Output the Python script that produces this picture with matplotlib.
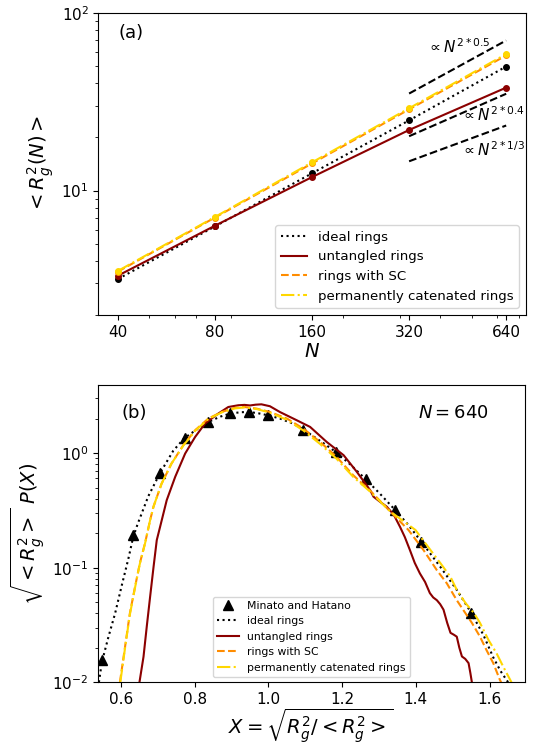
import numpy as np
import matplotlib
matplotlib.use("Agg")
import matplotlib.pyplot as plt
from matplotlib.ticker import NullFormatter, FixedLocator, FixedFormatter

# ---------------- panel (a) data ----------------
N_vals = [40, 80, 160, 320, 640]
N_labels = ["40", "80", "160", "320", "640"]
rg_ideal = [3.18, 6.28, 12.5, 24.8, 49.8]
rg_untangled = [3.32, 6.34, 11.9, 21.9, 37.9]
rg_sc = [3.50, 7.05, 14.2, 28.6, 57.5]
rg_cat = [3.53, 7.10, 14.4, 29.0, 58.5]

ref_N = [320, 640]
ref_05 = [35.1, 69.8]
ref_04 = [20.2, 35.0]
ref_13 = [14.6, 23.2]

# ---------------- panel (b) data ----------------
mh_x = [0.548, 0.633, 0.707, 0.773, 0.837, 0.896, 0.948, 1.000, 1.095, 1.183, 1.264, 1.344, 1.414, 1.549]
mh_y = [0.0157, 0.192, 0.675, 1.35, 1.88, 2.22, 2.28, 2.15, 1.59, 1.03, 0.59, 0.32, 0.167, 0.040]

ideal_x = [0.540, 0.548, 0.566, 0.584, 0.602, 0.620, 0.633, 0.645, 0.674, 0.706, 0.742, 0.772, 0.812, 0.837,
           0.870, 0.896, 0.925, 0.948, 0.973, 1.000, 1.031, 1.068, 1.095, 1.149, 1.183, 1.221, 1.264, 1.303,
           1.344, 1.380, 1.414, 1.466, 1.511, 1.549, 1.583, 1.610, 1.630, 1.655]
ideal_y = [0.0100, 0.0150, 0.025, 0.040, 0.070, 0.120, 0.185, 0.24, 0.42, 0.67, 1.05, 1.35, 1.66, 1.87,
           2.08, 2.21, 2.27, 2.28, 2.22, 2.13, 2.00, 1.80, 1.60, 1.22, 1.02, 0.80, 0.59, 0.44,
           0.318, 0.235, 0.170, 0.102, 0.064, 0.041, 0.026, 0.0165, 0.0125, 0.0095]

sc_x = [0.597, 0.611, 0.624, 0.638, 0.651, 0.665, 0.679, 0.688, 0.710, 0.737, 0.769, 0.801, 0.837, 0.873,
        0.909, 0.935, 0.968, 1.004, 1.050, 1.095, 1.140, 1.185, 1.230, 1.276, 1.330, 1.380, 1.421, 1.457,
        1.484, 1.511, 1.552, 1.574, 1.592, 1.610, 1.628, 1.640]
sc_y = [0.0100, 0.0205, 0.040, 0.068, 0.109, 0.163, 0.26, 0.34, 0.54, 0.81, 1.17, 1.58, 2.00, 2.28,
        2.48, 2.52, 2.44, 2.28, 2.00, 1.63, 1.25, 0.925, 0.64, 0.47, 0.31, 0.213, 0.142, 0.095,
        0.073, 0.052, 0.033, 0.025, 0.019, 0.0147, 0.0105, 0.0088]

cat_x = [0.598, 0.611, 0.624, 0.638, 0.651, 0.665, 0.679, 0.688, 0.710, 0.737, 0.769, 0.801, 0.837, 0.873,
         0.909, 0.935, 0.968, 1.004, 1.050, 1.095, 1.140, 1.185, 1.230, 1.276, 1.330, 1.399, 1.440, 1.467,
         1.494, 1.511, 1.535, 1.558, 1.574, 1.597, 1.619, 1.637, 1.656, 1.665]
cat_y = [0.0100, 0.0200, 0.039, 0.067, 0.108, 0.162, 0.26, 0.34, 0.54, 0.81, 1.16, 1.56, 1.98, 2.26,
         2.45, 2.50, 2.42, 2.25, 1.95, 1.57, 1.20, 0.89, 0.62, 0.46, 0.31, 0.213, 0.142, 0.109,
         0.083, 0.064, 0.049, 0.040, 0.033, 0.0234, 0.0179, 0.0137, 0.0105, 0.0092]

unt_x = [0.650, 0.661, 0.670, 0.679, 0.688, 0.697, 0.706, 0.724, 0.747, 0.774, 0.801, 0.828, 0.864, 0.891,
         0.918, 0.935, 0.950, 0.965, 0.981, 1.004, 1.031, 1.077, 1.113, 1.158, 1.204, 1.240, 1.276, 1.285,
         1.303, 1.321, 1.340, 1.357, 1.370, 1.384, 1.397, 1.411, 1.425, 1.438, 1.447, 1.457, 1.466, 1.475,
         1.485, 1.494, 1.503, 1.511, 1.518, 1.525, 1.534, 1.543, 1.548, 1.552]
unt_y = [0.0100, 0.0167, 0.031, 0.056, 0.100, 0.174, 0.227, 0.388, 0.62, 0.99, 1.38, 1.81, 2.21, 2.52,
         2.61, 2.63, 2.60, 2.64, 2.66, 2.56, 2.28, 1.93, 1.69, 1.25, 0.957, 0.684, 0.474, 0.416,
         0.375, 0.34, 0.29, 0.227, 0.185, 0.142, 0.110, 0.089, 0.075, 0.060, 0.055, 0.052, 0.048, 0.043,
         0.033, 0.027, 0.026, 0.025, 0.020, 0.0168, 0.016, 0.0147, 0.012, 0.0100]

C_ID = "black"
C_UN = "#8b0000"
C_SC = "#ff8c00"
C_CA = "#ffd700"

fig = plt.figure(figsize=(5.33, 7.46), dpi=100)

# ---------------- panel (a) ----------------
ax1 = fig.add_axes([0.1848, 0.578, 0.8013, 0.405])
ax1.set_xscale("log")
ax1.set_yscale("log")
series = [(rg_ideal, ":", C_ID, "ideal rings"),
          (rg_untangled, "-", C_UN, "untangled rings"),
          (rg_sc, "--", C_SC, "rings with SC"),
          (rg_cat, "-.", C_CA, "permanently catenated rings")]
for vals, ls, col, lab in series:
    ax1.plot(N_vals, vals, ls, color=col, lw=1.5, label=lab)
    ax1.plot(N_vals, vals, "o", color=col, ms=4)
ax1.plot(ref_N, ref_05, "--", color="black", lw=1.5)
ax1.plot(ref_N, ref_04, "--", color="black", lw=1.5)
ax1.plot(ref_N, ref_13, "--", color="black", lw=1.5)
ax1.text(363, 64.3, r"$\propto N^{2*0.5}$", fontsize=11, ha="left", va="center")
ax1.text(464, 26.6, r"$\propto N^{2*0.4}$", fontsize=11, ha="left", va="center")
ax1.text(464, 16.9, r"$\propto N^{2*1/3}$", fontsize=11, ha="left", va="center")
ax1.set_ylim(2, 100)
ax1.xaxis.set_major_locator(FixedLocator(N_vals))
ax1.xaxis.set_major_formatter(FixedFormatter(N_labels))
ax1.xaxis.set_minor_formatter(NullFormatter())
ax1.tick_params(labelsize=11)
ax1.set_xlabel(r"$N$", fontsize=14, labelpad=2)
ax1.set_ylabel(r"$<R_g^2(N)>$", fontsize=14)
ax1.text(0.048, 0.932, "(a)", transform=ax1.transAxes, fontsize=13, va="center")
ax1.legend(loc="lower right", fontsize=9.6, handlelength=2.0)

# ---------------- panel (b) ----------------
ax2 = fig.add_axes([0.1842, 0.0854, 0.800, 0.399])
ax2.set_yscale("log")
ax2.plot(mh_x, mh_y, "^", color="black", ms=7, label="Minato and Hatano")
ax2.plot(ideal_x, ideal_y, ":", color=C_ID, lw=1.5, label="ideal rings")
ax2.plot(unt_x, unt_y, "-", color=C_UN, lw=1.5, label="untangled rings")
ax2.plot(sc_x, sc_y, "--", color=C_SC, lw=1.5, label="rings with SC")
ax2.plot(cat_x, cat_y, "-.", color=C_CA, lw=1.5, label="permanently catenated rings")
ax2.set_xlim(0.538, 1.695)
ax2.set_ylim(0.01, 3.95)
ax2.set_xticks([0.6, 0.8, 1.0, 1.2, 1.4, 1.6])
ax2.tick_params(labelsize=11)
ax2.set_xlabel(r"$X=\sqrt{R_g^2/<R_g^2>}$", fontsize=14, labelpad=0)
ax2.set_ylabel(r"$\sqrt{<R_g^2>}\ P(X)$", fontsize=14)
ax2.text(0.054, 0.905, "(b)", transform=ax2.transAxes, fontsize=13, va="center")
ax2.text(0.915, 0.905, r"$N=640$", transform=ax2.transAxes, fontsize=13, va="center", ha="right")
ax2.legend(loc="lower center", fontsize=7.8, handlelength=2.0)

fig.savefig("out.png", dpi=100)
